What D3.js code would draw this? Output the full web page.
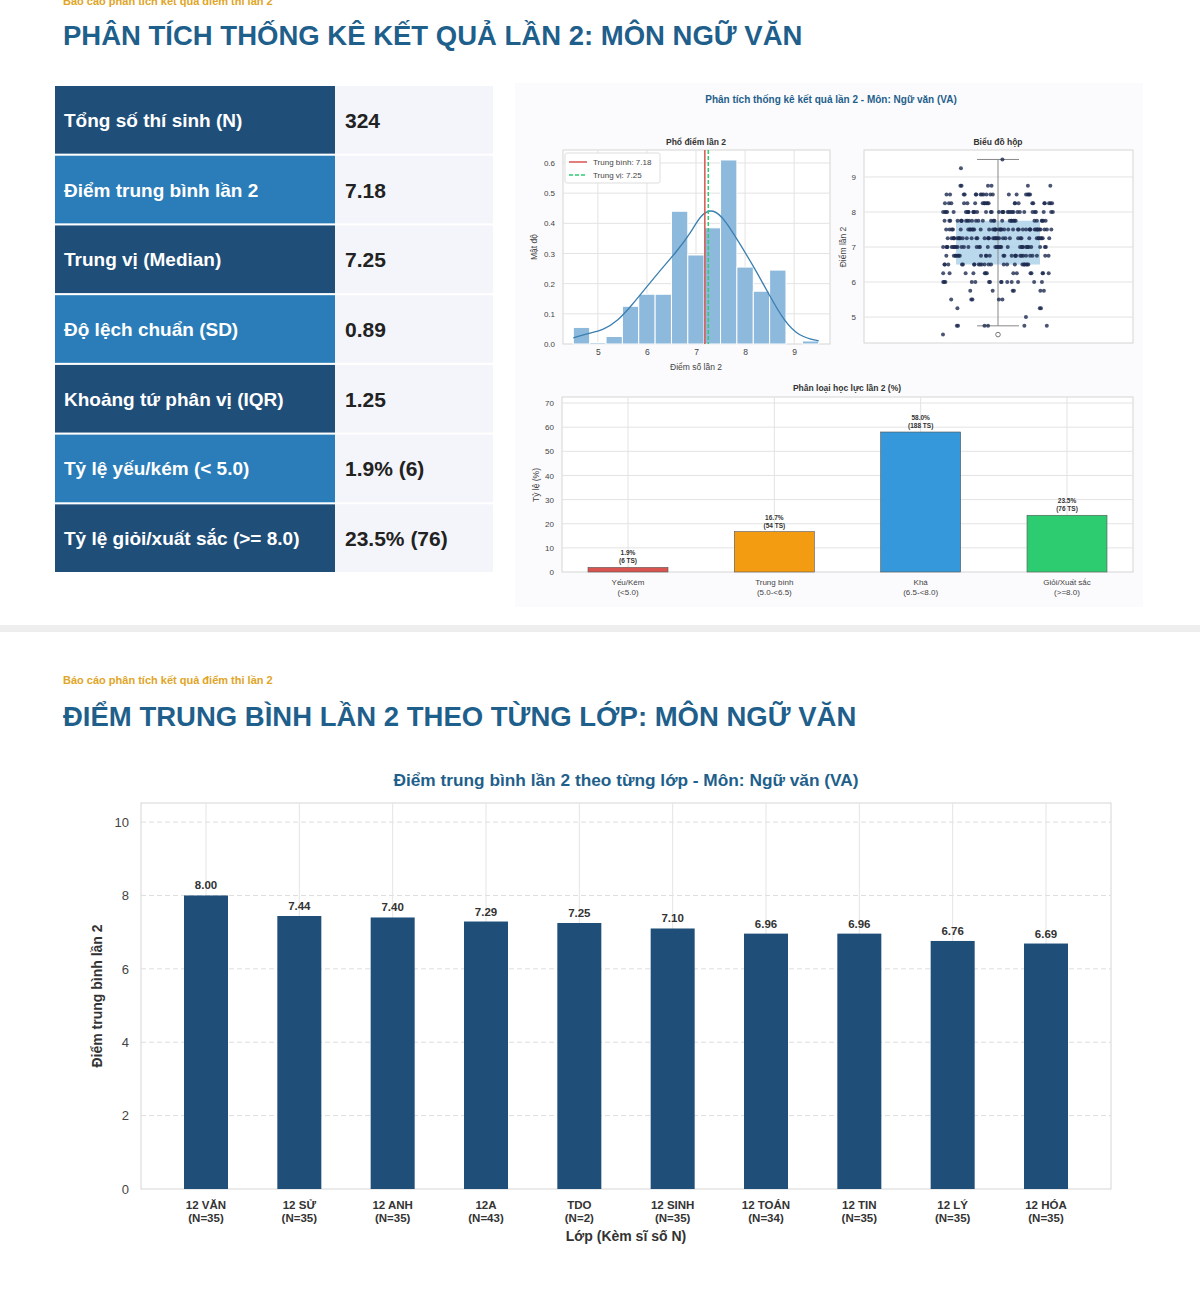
<!DOCTYPE html>
<html><head><meta charset="utf-8">
<script src="https://cdn.jsdelivr.net/npm/d3@7"></script>
<style>body{margin:0;background:#fff;font-family:"Liberation Sans",Arial,sans-serif}</style>
</head><body><div id="root"></div>
<script>
// ---- data ----
var statLabels = ["Tổng số thí sinh (N)", "Điểm trung bình lần 2", "Trung vị (Median)", "Độ lệch chuẩn (SD)", "Khoảng tứ phân vị (IQR)", "Tỷ lệ yếu/kém (< 5.0)", "Tỷ lệ giỏi/xuất sắc (>= 8.0)"]
var statValues = ["324", "7.18", "7.25", "0.89", "1.25", "1.9% (6)", "23.5% (76)"]

var histEdges = [4.5, 4.833, 5.167, 5.5, 5.833, 6.167, 6.5, 6.833, 7.167, 7.5, 7.833, 8.167, 8.5, 8.833, 9.167, 9.5]
var histDensity = [0.055, 0.005, 0.025, 0.125, 0.165, 0.165, 0.44, 0.295, 0.385, 0.61, 0.255, 0.175, 0.245, 0, 0.01]
var kdeX = [4.5, 4.8, 5.1, 5.4, 5.7, 6.0, 6.3, 6.6, 6.9, 7.1, 7.35, 7.6, 7.9, 8.2, 8.5, 8.8, 9.1, 9.5]
var kdeY = [0.02, 0.035, 0.045, 0.075, 0.13, 0.19, 0.25, 0.305, 0.37, 0.43, 0.45, 0.41, 0.33, 0.25, 0.16, 0.075, 0.025, 0.01]
var meanScore = 7.18, medianScore = 7.25

var scoreVals = [4.5, 4.75, 5, 5.25, 5.5, 5.75, 6, 6.25, 6.5, 6.75, 7, 7.25, 7.5, 7.75, 8, 8.25, 8.5, 8.75, 9, 9.25, 9.5]
var scoreCounts = [1, 6, 1, 3, 5, 6, 14, 14, 22, 26, 36, 38, 40, 30, 34, 22, 18, 6, 0, 1, 1]
var boxStats = { q1: 6.5, med: 7.25, q3: 7.75, lo: 4.75, hi: 9.5, outlier: 4.5 }

var levelNames = [["Yếu/Kém", "(<5.0)"], ["Trung bình", "(5.0-<6.5)"], ["Khá", "(6.5-<8.0)"], ["Giỏi/Xuất sắc", "(>=8.0)"]]
var levelPct = [1.9, 16.7, 58.0, 23.5]
var levelCount = [6, 54, 188, 76]
var levelColors = ["#d9534f", "#f39c12", "#3498db", "#2ecc71"]

var classNames = ["12 VĂN", "12 SỬ", "12 ANH", "12A", "TDO", "12 SINH", "12 TOÁN", "12 TIN", "12 LÝ", "12 HÓA"]
var classN = [35, 35, 35, 43, 2, 35, 34, 35, 35, 35]
var classMean = [8.00, 7.44, 7.40, 7.29, 7.25, 7.10, 6.96, 6.96, 6.76, 6.69]

var navy = "#1f4e79", titleBlue = "#1f5f8b"

var svg = d3.select("#root").append("svg").attr("width", 1200).attr("height", 1291)
    .style("font-family", '"Liberation Sans", Arial, sans-serif')

svg.append("text").attr("x", 63).attr("y", 5).attr("fill", "#e0a526").attr("font-size", 11).attr("font-weight", "bold")
    .text("Báo cáo phân tích kết quả điểm thi lần 2")
svg.append("text").attr("x", 63).attr("y", 45).attr("fill", titleBlue).attr("font-size", 27.5).attr("font-weight", "bold")
    .text("PHÂN TÍCH THỐNG KÊ KẾT QUẢ LẦN 2: MÔN NGỮ VĂN")

// ---- stats table ----
var rowY = d3.scaleBand().domain(d3.range(statLabels.length)).range([86, 572]).paddingInner(0.03)
var rows = svg.selectAll(".row").data(statLabels).enter().append("g")
    .attr("transform", function (d, i) { return "translate(0," + rowY(i) + ")" })
rows.append("rect").attr("x", 55).attr("width", 280).attr("height", rowY.bandwidth())
    .attr("fill", function (d, i) { return i % 2 ? "#2a7db8" : navy })
rows.append("rect").attr("x", 335).attr("width", 158).attr("height", rowY.bandwidth()).attr("fill", "#f4f5fa")
rows.append("text").attr("x", 64).attr("y", rowY.bandwidth() / 2 + 7).attr("fill", "#fff")
    .attr("font-size", 19).attr("font-weight", "bold").text(function (d) { return d })
rows.append("text").attr("x", 345).attr("y", rowY.bandwidth() / 2 + 8).attr("fill", "#222")
    .attr("font-size", 21).attr("font-weight", "bold").text(function (d, i) { return statValues[i] })

// ---- figure panel ----
svg.append("rect").attr("x", 515).attr("y", 83).attr("width", 628).attr("height", 524).attr("fill", "#fbfbfd")
svg.append("text").attr("x", 831).attr("y", 103).attr("text-anchor", "middle").attr("font-size", 10)
    .attr("font-weight", "bold").attr("fill", titleBlue).text("Phân tích thống kê kết quả lần 2 - Môn: Ngữ văn (VA)")

function frame(g, x0, x1, y0, y1) {
    g.append("rect").attr("x", x0).attr("y", y0).attr("width", x1 - x0).attr("height", y1 - y0)
        .attr("fill", "#fff").attr("stroke", "#d5d5d5")
}
function styleAxis(size) {
    return function (a) { a.select(".domain").remove(); a.selectAll("text").attr("font-size", size).attr("fill", "#444") }
}

// histogram
var hx = d3.scaleLinear().domain([4.29, 9.73]).range([563, 830])
var hy = d3.scaleLinear().domain([0, 0.643]).range([344, 150])
var hg = svg.append("g")
frame(hg, 563, 830, 150, 344)
hg.selectAll(".gx").data([5, 6, 7, 8, 9]).enter().append("line").attr("x1", hx).attr("x2", hx)
    .attr("y1", 150).attr("y2", 344).attr("stroke", "#e3e3e3")
hg.selectAll(".gy").data([0.1, 0.2, 0.3, 0.4, 0.5, 0.6]).enter().append("line").attr("y1", hy).attr("y2", hy)
    .attr("x1", 563).attr("x2", 830).attr("stroke", "#e3e3e3")
hg.selectAll(".bin").data(histDensity).enter().append("rect")
    .attr("x", function (d, i) { return hx(histEdges[i]) }).attr("width", function (d, i) { return hx(histEdges[i + 1]) - hx(histEdges[i]) })
    .attr("y", function (d) { return hy(d) }).attr("height", function (d) { return hy(0) - hy(d) })
    .attr("fill", "#8db9dc").attr("stroke", "#fff").attr("stroke-width", 1)
hg.append("path").datum(kdeX).attr("fill", "none").attr("stroke", "#3b7fb0").attr("stroke-width", 1.3)
    .attr("d", d3.line().curve(d3.curveBasis).x(function (d) { return hx(d) }).y(function (d, i) { return hy(kdeY[i]) }))
hg.append("line").attr("x1", hx(meanScore)).attr("x2", hx(meanScore)).attr("y1", 150).attr("y2", 344)
    .attr("stroke", "#d9534f").attr("stroke-width", 1.5)
hg.append("line").attr("x1", hx(medianScore)).attr("x2", hx(medianScore)).attr("y1", 150).attr("y2", 344)
    .attr("stroke", "#2ecc71").attr("stroke-width", 1.5).attr("stroke-dasharray", "4,2")
hg.append("rect").attr("x", 565).attr("y", 153).attr("width", 95).attr("height", 30).attr("fill", "#fff").attr("stroke", "#ddd").attr("rx", 2)
hg.append("line").attr("x1", 569).attr("x2", 587).attr("y1", 162).attr("y2", 162).attr("stroke", "#d9534f").attr("stroke-width", 1.5)
hg.append("line").attr("x1", 569).attr("x2", 587).attr("y1", 175).attr("y2", 175).attr("stroke", "#2ecc71").attr("stroke-width", 1.5).attr("stroke-dasharray", "4,2")
hg.append("text").attr("x", 593).attr("y", 165).attr("font-size", 8).attr("fill", "#444").text("Trung bình: " + meanScore)
hg.append("text").attr("x", 593).attr("y", 178).attr("font-size", 8).attr("fill", "#444").text("Trung vị: " + medianScore)
hg.append("g").attr("transform", "translate(0,344)").call(d3.axisBottom(hx).tickValues([5, 6, 7, 8, 9]).tickFormat(d3.format("d")).tickSize(0).tickPadding(5))
    .call(styleAxis(8.5))
hg.append("g").attr("transform", "translate(563,0)").call(d3.axisLeft(hy).tickValues([0, 0.1, 0.2, 0.3, 0.4, 0.5, 0.6]).tickFormat(d3.format(".1f")).tickSize(0).tickPadding(8))
    .call(styleAxis(8))
hg.append("text").attr("x", 696).attr("y", 145).attr("text-anchor", "middle").attr("font-size", 8.5).attr("font-weight", "bold").attr("fill", "#333").text("Phổ điểm lần 2")
hg.append("text").attr("x", 696).attr("y", 370).attr("text-anchor", "middle").attr("font-size", 8.5).attr("fill", "#444").text("Điểm số lần 2")
hg.append("text").attr("transform", "translate(537,247) rotate(-90)").attr("text-anchor", "middle").attr("font-size", 8.5).attr("fill", "#444").text("Mật độ")

// boxplot with strip of points
var by = d3.scaleLinear().domain([4.26, 9.77]).range([343, 150])
var bx = 998
var bg = svg.append("g")
frame(bg, 864, 1133, 150, 343)
bg.selectAll(".gy").data([5, 6, 7, 8, 9]).enter().append("line").attr("y1", by).attr("y2", by)
    .attr("x1", 864).attr("x2", 1133).attr("stroke", "#e3e3e3")
bg.append("rect").attr("x", bx - 42).attr("width", 84).attr("y", by(boxStats.q3)).attr("height", by(boxStats.q1) - by(boxStats.q3))
    .attr("fill", "#a9cfe8").attr("opacity", 0.8)
bg.append("line").attr("x1", bx).attr("x2", bx).attr("y1", by(boxStats.lo)).attr("y2", by(boxStats.hi)).attr("stroke", "#888")
bg.selectAll(".cap").data([boxStats.lo, boxStats.hi]).enter().append("line").attr("x1", bx - 21).attr("x2", bx + 21)
    .attr("y1", by).attr("y2", by).attr("stroke", "#888")
bg.append("circle").attr("cx", bx).attr("cy", by(boxStats.outlier)).attr("r", 2.3).attr("fill", "#fff").attr("stroke", "#777")
var pts = []
scoreVals.forEach(function (v, i) {
    for (var k = 0; k < scoreCounts[i]; k++) {
        var f = ((k * 0.618034 + i * 0.377 + k * k * 0.1309) % 1)
        pts.push({ v: v, dx: (f - 0.5) * 110 })
    }
})
bg.selectAll(".pt").data(pts).enter().append("circle").attr("cx", function (d) { return bx + d.dx })
    .attr("cy", function (d) { return by(d.v) }).attr("r", 2).attr("fill", "#1d2b50").attr("opacity", 0.8)
bg.append("g").attr("transform", "translate(864,0)").call(d3.axisLeft(by).tickValues([5, 6, 7, 8, 9]).tickFormat(d3.format("d")).tickSize(0).tickPadding(8))
    .call(styleAxis(8))
bg.append("text").attr("x", 998).attr("y", 145).attr("text-anchor", "middle").attr("font-size", 8.5).attr("font-weight", "bold").attr("fill", "#333").text("Biểu đồ hộp")
bg.append("text").attr("transform", "translate(846,247) rotate(-90)").attr("text-anchor", "middle").attr("font-size", 8.5).attr("fill", "#444").text("Điểm lần 2")

// classification bars
var cx = d3.scalePoint().domain(d3.range(4)).range([628, 1067])
var cw = 80
var cy = d3.scaleLinear().domain([0, 72.5]).range([572, 397])
var cg = svg.append("g")
frame(cg, 562, 1133, 397, 572)
cg.selectAll(".gy").data([10, 20, 30, 40, 50, 60, 70]).enter().append("line").attr("y1", cy).attr("y2", cy)
    .attr("x1", 562).attr("x2", 1133).attr("stroke", "#e3e3e3")
cg.selectAll(".gx").data(d3.range(4)).enter().append("line").attr("x1", cx).attr("x2", cx)
    .attr("y1", 397).attr("y2", 572).attr("stroke", "#e3e3e3")
cg.selectAll(".bar").data(levelPct).enter().append("rect").attr("x", function (d, i) { return cx(i) - cw / 2 })
    .attr("width", cw).attr("y", function (d) { return cy(d) }).attr("height", function (d) { return cy(0) - cy(d) })
    .attr("fill", function (d, i) { return levelColors[i] }).attr("stroke", "#555").attr("stroke-width", 0.6)
cg.selectAll(".lb1").data(levelPct).enter().append("text").attr("x", function (d, i) { return cx(i) })
    .attr("y", function (d) { return cy(d) - 12 }).attr("text-anchor", "middle").attr("font-size", 6.5).attr("font-weight", "bold").attr("fill", "#333")
    .text(function (d) { return d.toFixed(1) + "%" })
cg.selectAll(".lb2").data(levelCount).enter().append("text").attr("x", function (d, i) { return cx(i) })
    .attr("y", function (d, i) { return cy(levelPct[i]) - 4 }).attr("text-anchor", "middle").attr("font-size", 6.5).attr("font-weight", "bold").attr("fill", "#333")
    .text(function (d) { return "(" + d + " TS)" })
levelNames.forEach(function (n, i) {
    n.forEach(function (s, j) {
        cg.append("text").attr("x", cx(i)).attr("y", 585 + j * 10).attr("text-anchor", "middle")
            .attr("font-size", 8).attr("fill", "#444").text(s)
    })
})
cg.append("g").attr("transform", "translate(562,0)").call(d3.axisLeft(cy).tickValues([0, 10, 20, 30, 40, 50, 60, 70]).tickSize(0).tickPadding(8))
    .call(styleAxis(8))
cg.append("text").attr("x", 847).attr("y", 391).attr("text-anchor", "middle").attr("font-size", 8.5).attr("font-weight", "bold").attr("fill", "#333").text("Phân loại học lực lần 2 (%)")
cg.append("text").attr("transform", "translate(539,485) rotate(-90)").attr("text-anchor", "middle").attr("font-size", 8.5).attr("fill", "#444").text("Tỷ lệ (%)")

// separator
svg.append("rect").attr("x", 0).attr("y", 625).attr("width", 1200).attr("height", 7).attr("fill", "#eeeeef")

// ---- section 2 ----
svg.append("text").attr("x", 63).attr("y", 684).attr("fill", "#e0a526").attr("font-size", 11).attr("font-weight", "bold")
    .text("Báo cáo phân tích kết quả điểm thi lần 2")
svg.append("text").attr("x", 63).attr("y", 726).attr("fill", titleBlue).attr("font-size", 27.5).attr("font-weight", "bold")
    .text("ĐIỂM TRUNG BÌNH LẦN 2 THEO TỪNG LỚP: MÔN NGỮ VĂN")
svg.append("text").attr("x", 626).attr("y", 786).attr("text-anchor", "middle").attr("fill", titleBlue).attr("font-size", 17.3)
    .attr("font-weight", "bold").text("Điểm trung bình lần 2 theo từng lớp - Môn: Ngữ văn (VA)")

var x = d3.scalePoint().domain(d3.range(classNames.length)).range([206, 1046])
var bw = 44
var y = d3.scaleLinear().domain([0, 10.52]).range([1189, 803])
var g2 = svg.append("g")
frame(g2, 141, 1111, 803, 1189)
g2.selectAll(".gy").data([2, 4, 6, 8, 10]).enter().append("line").attr("y1", y).attr("y2", y)
    .attr("x1", 141).attr("x2", 1111).attr("stroke", "#ddd").attr("stroke-dasharray", "5,3")
g2.selectAll(".gx").data(classNames).enter().append("line").attr("x1", function (d, i) { return x(i) })
    .attr("x2", function (d, i) { return x(i) }).attr("y1", 803).attr("y2", 1189).attr("stroke", "#e4e4e4")
g2.selectAll(".bar").data(classMean).enter().append("rect").attr("x", function (d, i) { return x(i) - bw / 2 })
    .attr("width", bw).attr("y", function (d) { return y(d) }).attr("height", function (d) { return y(0) - y(d) })
    .attr("fill", navy)
g2.selectAll(".val").data(classMean).enter().append("text").attr("x", function (d, i) { return x(i) })
    .attr("y", function (d) { return y(d) - 6 }).attr("text-anchor", "middle").attr("font-size", 11.5).attr("font-weight", "bold")
    .attr("fill", "#333").text(function (d) { return d.toFixed(2) })
classNames.forEach(function (n, i) {
    g2.append("text").attr("x", x(i)).attr("y", 1209).attr("text-anchor", "middle").attr("font-size", 11.5).attr("font-weight", "bold").attr("fill", "#333").text(n)
    g2.append("text").attr("x", x(i)).attr("y", 1222).attr("text-anchor", "middle").attr("font-size", 11.5).attr("font-weight", "bold").attr("fill", "#333").text("(N=" + classN[i] + ")")
})
g2.append("g").attr("transform", "translate(141,0)").call(d3.axisLeft(y).tickValues([0, 2, 4, 6, 8, 10]).tickSize(0).tickPadding(12))
    .call(styleAxis(13))
g2.append("text").attr("x", 626).attr("y", 1241).attr("text-anchor", "middle").attr("font-size", 14).attr("font-weight", "bold").attr("fill", "#333").text("Lớp (Kèm sĩ số N)")
g2.append("text").attr("transform", "translate(102,996) rotate(-90)").attr("text-anchor", "middle").attr("font-size", 14).attr("font-weight", "bold").attr("fill", "#333").text("Điểm trung bình lần 2")
</script></body></html>
